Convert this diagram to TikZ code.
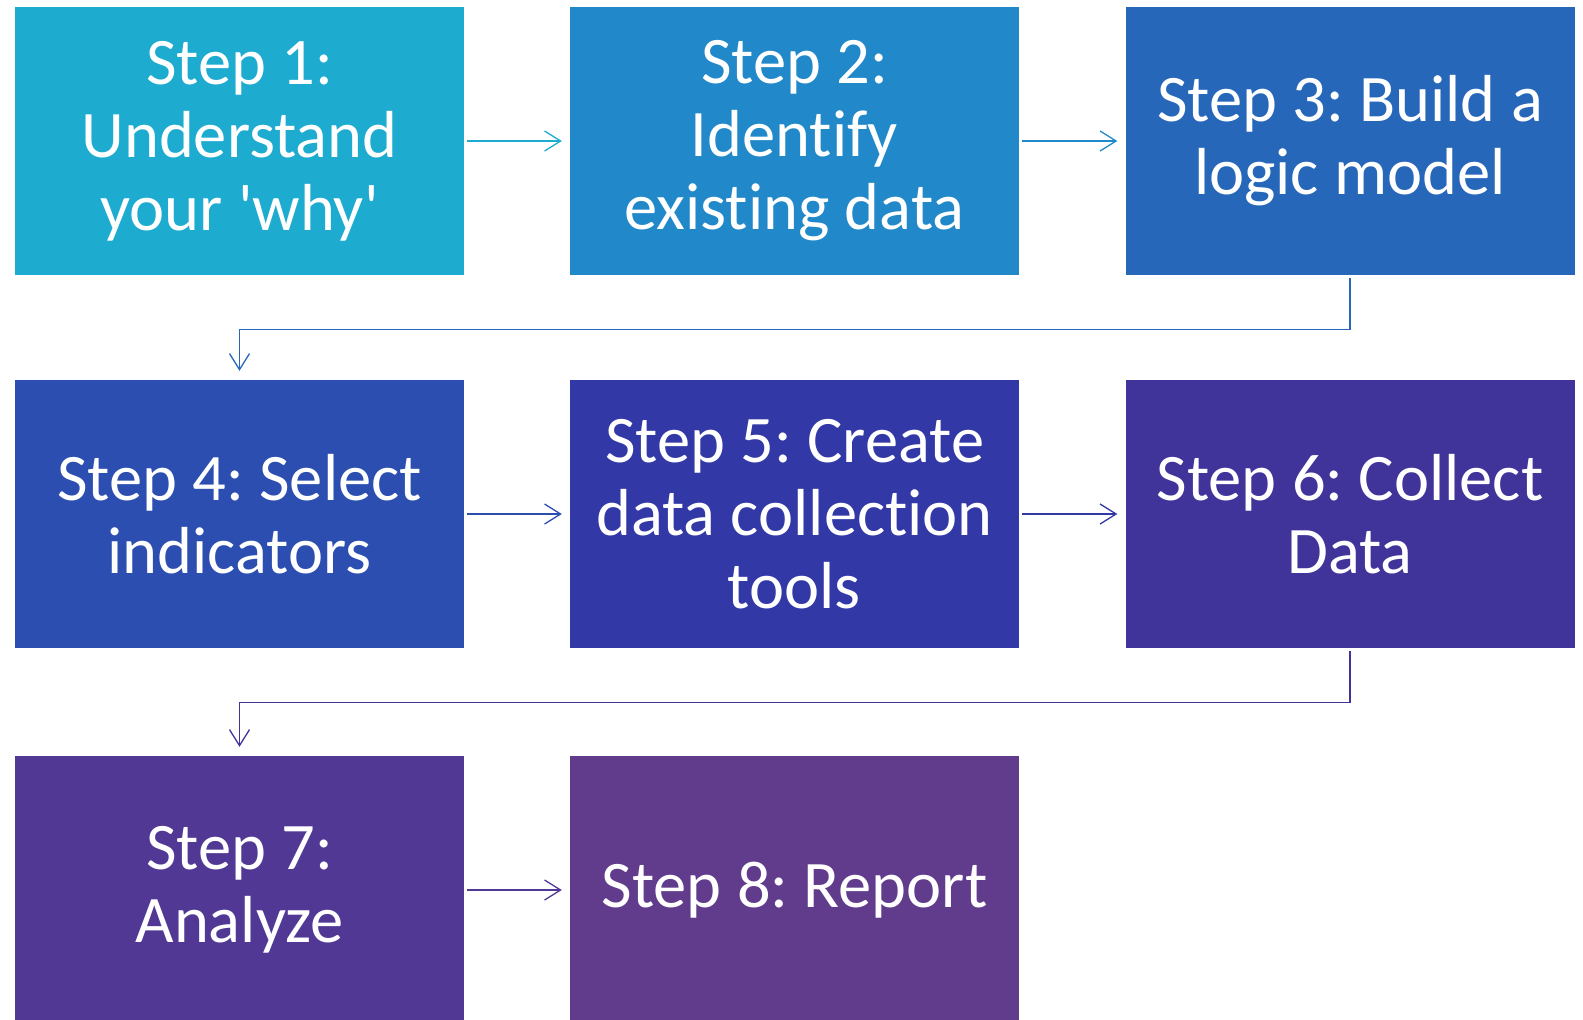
\documentclass[tikz,border=0pt]{standalone}
\usepackage{fontspec}
\newfontfamily\boxfont{Carlito}[Ligatures=NoCommon]
\usetikzlibrary{arrows.meta}

\definecolor{cOne}{HTML}{1DABD0}
\definecolor{cTwo}{HTML}{2188C9}
\definecolor{cThree}{HTML}{2667BA}
\definecolor{cFour}{HTML}{2B4EB0}
\definecolor{cFive}{HTML}{3238A6}
\definecolor{cSix}{HTML}{40349A}
\definecolor{cSeven}{HTML}{513894}
\definecolor{cEight}{HTML}{613B8C}

% fixed word spacing for the step labels
\newcommand\steplabelspacing{\frenchspacing\spaceskip=0.23em\relax}

\tikzset{
  stepbox/.style={rectangle, inner sep=0pt, minimum width=449pt, minimum height=268pt,
    text width=440pt, align=flush center, text=white,
    font=\boxfont\fontsize{66.5}{73}\selectfont,
    execute at begin node=\steplabelspacing},
  flow/.style={line width=1.3pt, -{Straight Barb[length=16pt,width=20pt]}}
}

\begin{document}
\begin{tikzpicture}[x=1pt,y=-1pt]
  \useasboundingbox (0,0) rectangle (1583,1020);
  \clip (0,0) rectangle (1583,1020);

  % process steps, three per row
  \node[stepbox, fill=cOne]   (b1) at (239.5,141) {Step 1:\\Understand\\your \textquotesingle why\textquotesingle};
  \node[stepbox, fill=cTwo]   (b2) at (794.5,141) {Step 2:\\Identify\\existing data};
  \node[stepbox, fill=cThree] (b3) at (1350,141)  {Step 3: Build a\\logic model};
  \node[stepbox, fill=cFour]  (b4) at (239.5,514) {Step 4: Select\\indicators};
  \node[stepbox, fill=cFive]  (b5) at (794.5,514) {Step 5: Create\\data collection\\tools};
  \node[stepbox, fill=cSix]   (b6) at (1350,514)  {Step 6: Collect\\Data};
  \node[stepbox, fill=cSeven] (b7) at (239.5,890) {Step 7:\\Analyze};
  \node[stepbox, fill=cEight] (b8) at (794.5,890) {Step 8: Report};

  % connectors within rows
  \draw[flow, draw=cOne]   ([xshift=3pt]b1.east) -- ([xshift=-8pt]b2.west);
  \draw[flow, draw=cTwo]   ([xshift=3pt]b2.east) -- ([xshift=-8pt]b3.west);
  \draw[flow, draw=cFour]  ([xshift=3pt]b4.east) -- ([xshift=-8pt]b5.west);
  \draw[flow, draw=cFive]  ([xshift=3pt]b5.east) -- ([xshift=-8pt]b6.west);
  \draw[flow, draw=cSeven] ([xshift=3pt]b7.east) -- ([xshift=-8pt]b8.west);

  % connectors wrapping to the next row
  \draw[flow, draw=cThree] ([yshift=-3pt]b3.south) -- ++(0,51) -| ([yshift=9pt]b4.north);
  \draw[flow, draw=cSix]   ([yshift=-3pt]b6.south) -- ++(0,51) -| ([yshift=9pt]b7.north);
\end{tikzpicture}
\end{document}
